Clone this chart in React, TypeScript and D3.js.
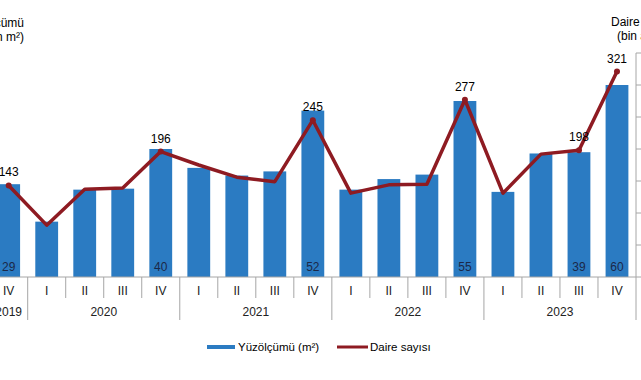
import React from "react";
import * as d3 from "d3";

const quarters = ["IV","I","II","III","IV","I","II","III","IV","I","II","III","IV","I","II","III","IV"];
const years = ["2019","2020","2020","2020","2020","2021","2021","2021","2021","2022","2022","2022","2022","2023","2023","2023","2023"];
const area = [29, 17.3, 27.3, 27.6, 40, 34.1, 31.7, 33.0, 52, 27.3, 30.6, 32, 55, 26.6, 38.6, 39, 60];
const dwellings = [143, 81, 137, 139, 196, 175, 156, 149, 245, 131, 144, 145, 277, 131, 192, 198, 321];
const areaLabels = ["29", "", "", "", "40", "", "", "", "52", "", "", "", "55", "", "", "39", "60"];
const dwellLabels = ["143", "", "", "", "196", "", "", "", "245", "", "", "", "277", "", "", "198", "321"];
const rightTicks = [0, 50, 100, 150, 200, 250, 300, 350];

const W = 641, H = 380;
const X0 = -10.33, X1 = 636, BASE = 277, TOP = 53;
const BLUE = "#2b7bc2", RED = "#8e1b22", AXIS = "#a6a6a6";
const FONT = "Liberation Sans, Arial, sans-serif";

export default function App() {
  const idx = d3.range(quarters.length);
  const x = d3.scaleBand<number>().domain(idx).range([X0, X1]).paddingInner(0.4).paddingOuter(0.2);
  const step = x.step();
  const yL = d3.scaleLinear().domain([0, 70]).range([BASE, TOP]);
  const yR = d3.scaleLinear().domain([0, 350]).range([BASE, TOP]);
  const cx = (i: number) => (x(i) as number) + x.bandwidth() / 2;
  const line = d3.line<number>().x((_, i) => cx(i)).y((d) => yR(d));

  // year groups
  const groups: { year: string; start: number; end: number }[] = [];
  years.forEach((y, i) => {
    const g = groups[groups.length - 1];
    if (g && g.year === y) g.end = i;
    else groups.push({ year: y, start: i, end: i });
  });
  const bandLeft = (i: number) => X0 + i * step;

  return (
    <svg width={W} height={H} style={{ position: "absolute", left: 0, top: 0, background: "#fff" }} fontFamily={FONT}>
      <rect x={0} y={0} width={W} height={H} fill="#fff" />
      {/* axis titles */}
      <text x={24} y={27} fontSize={12} textAnchor="end" fill="#000">Yüzölçümü</text>
      <text x={24} y={41} fontSize={12} textAnchor="end" fill="#000">(milyon m²)</text>
      <text x={611} y={26} fontSize={12} fill="#000">Daire sayısı</text>
      <text x={617} y={40} fontSize={12} fill="#000">(bin adet)</text>

      {/* bars */}
      {area.map((v, i) => (
        <rect key={"b" + i} x={x(i)} y={yL(v)} width={x.bandwidth()} height={BASE - yL(v)} fill={BLUE} />
      ))}
      {areaLabels.map((l, i) => l ? (
        <text key={"bl" + i} x={cx(i)} y={271} fontSize={12} textAnchor="middle" fill="#1b2848">{l}</text>
      ) : null)}

      {/* baseline & right axis */}
      <line x1={X0} x2={X1} y1={BASE} y2={BASE} stroke={AXIS} strokeWidth={1} />
      <line x1={X1} x2={X1} y1={TOP} y2={320} stroke={AXIS} strokeWidth={1} />
      {rightTicks.map((t) => (
        <line key={"rt" + t} x1={X1} x2={X1 + 5} y1={yR(t)} y2={yR(t)} stroke={AXIS} />
      ))}

      {/* category separators */}
      {idx.map((i) => {
        const isYear = i > 0 && years[i] !== years[i - 1];
        return <line key={"s" + i} x1={bandLeft(i)} x2={bandLeft(i)} y1={BASE} y2={isYear ? 320 : 298} stroke={AXIS} />;
      })}
      {quarters.map((q, i) => (
        <text key={"q" + i} x={cx(i)} y={295} fontSize={12} textAnchor="middle" fill="#222">{q}</text>
      ))}
      {groups.map((g) => (
        <text key={"y" + g.year} x={(bandLeft(g.start) + bandLeft(g.end + 1)) / 2} y={316} fontSize={12} textAnchor="middle" fill="#222">{g.year}</text>
      ))}

      {/* line */}
      <path d={line(dwellings) || ""} fill="none" stroke={RED} strokeWidth={3.5} strokeLinejoin="round" />
      {dwellLabels.map((l, i) => l ? (
        <g key={"dl" + i}>
          <circle cx={cx(i)} cy={yR(dwellings[i])} r={3} fill={RED} />
          <text x={cx(i)} y={yR(dwellings[i]) - 9} fontSize={12} textAnchor="middle" fill="#000">{l}</text>
        </g>
      ) : null)}

      {/* legend */}
      <rect x={207} y={345} width={28} height={4} fill={BLUE} />
      <text x={238} y={351} fontSize={11.5} fill="#000">Yüzölçümü (m²)</text>
      <line x1={337} x2={368} y1={347} y2={347} stroke={RED} strokeWidth={3} />
      <text x={370} y={351} fontSize={11.5} fill="#000">Daire sayısı</text>
    </svg>
  );
}
